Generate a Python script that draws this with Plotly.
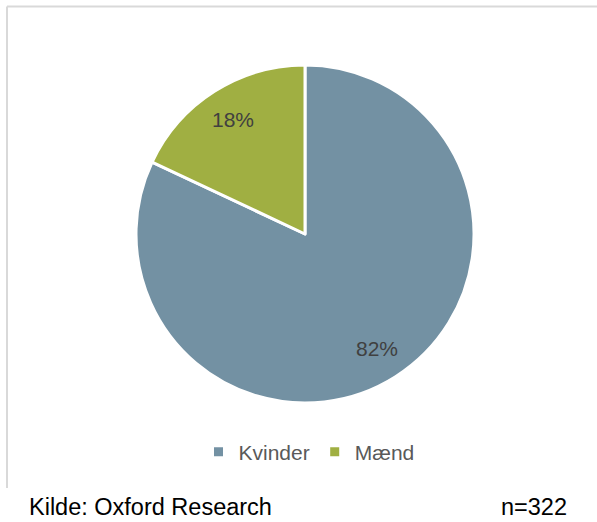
import math
import plotly.graph_objects as go

W, H = 597, 522

labels = ['Kvinder', 'Mænd']
values = [82, 18]
colors = ['#7391A3', '#A0AF42']

source_text = 'Kilde: Oxford Research'
n_text = 'n=322'

# pie geometry in pixels
cx, cy, r = 305, 234, 169

fig = go.Figure()

fig.add_trace(go.Pie(
    labels=labels,
    values=values,
    sort=False,
    direction='clockwise',
    rotation=0,
    marker=dict(colors=colors, line=dict(color='white', width=3)),
    textinfo='none',
    hoverinfo='label+percent',
    domain=dict(x=[(cx - r) / W, (cx + r) / W], y=[1 - (cy + r) / H, 1 - (cy - r) / H]),
))

# percentage labels placed along each slice's bisector, like Excel does
total = sum(values)
cum = 0
for v in values:
    mid = (cum + v / 2) / total * 2 * math.pi
    cum += v
    px = cx + 0.8 * r * math.sin(mid)
    py = cy - 0.8 * r * math.cos(mid)
    fig.add_annotation(text=f'{round(v / total * 100)}%', xref='paper', yref='paper',
                       x=px / W, y=1 - py / H, xanchor='center', yanchor='middle',
                       showarrow=False,
                       font=dict(family='Liberation Sans', size=21, color='#404040'))

# chart frame (top and left edges only, like the original)
fig.add_shape(type='line', xref='paper', yref='paper',
              x0=7 / W, x1=1, y0=1 - 6.5 / H, y1=1 - 6.5 / H,
              line=dict(color='#D9D9D9', width=2))
fig.add_shape(type='line', xref='paper', yref='paper',
              x0=7 / W, x1=7 / W, y0=1 - 6.5 / H, y1=1 - 488 / H,
              line=dict(color='#D9D9D9', width=2))

fig.add_annotation(text=source_text, xref='paper', yref='paper',
                   x=27 / W, y=1 - 507 / H, xanchor='left', yanchor='middle',
                   showarrow=False,
                   font=dict(family='Liberation Sans', size=23.5, color='#000000'))
fig.add_annotation(text=n_text, xref='paper', yref='paper',
                   x=569 / W, y=1 - 507 / H, xanchor='right', yanchor='middle',
                   showarrow=False,
                   font=dict(family='Liberation Sans', size=23.5, color='#000000'))

fig.update_layout(
    width=W, height=H,
    margin=dict(l=0, r=0, t=0, b=0),
    paper_bgcolor='white',
    plot_bgcolor='white',
    showlegend=True,
    legend=dict(orientation='h', xanchor='center', x=309 / W,
                yanchor='middle', y=1 - 452 / H,
                font=dict(family='Liberation Sans', size=21, color='#595959'),
                itemwidth=30, traceorder='normal'),
)

fig.write_html('out.html', config={'displayModeBar': False},
               post_script="document.body.style.margin='0';document.body.style.overflow='hidden';")
